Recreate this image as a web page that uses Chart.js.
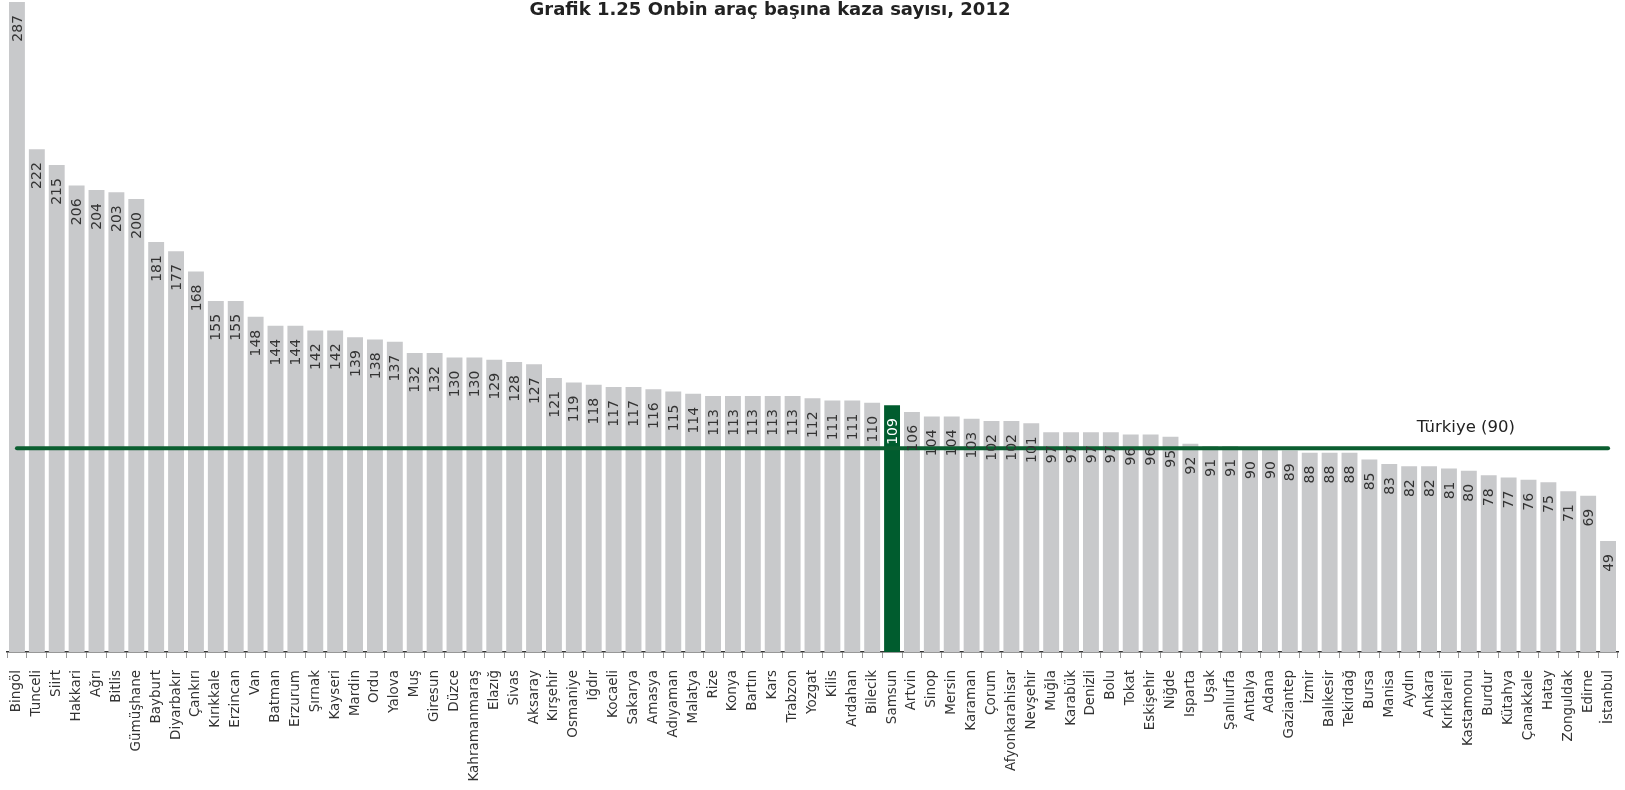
<!DOCTYPE html>
<html lang="tr">
<head>
<meta charset="utf-8">
<title>Onbin araç başına kaza sayısı, 2012</title>
<script src="https://cdn.jsdelivr.net/npm/chart.js@4.4.1/dist/chart.umd.min.js"></script>
<style>
  html, body { margin: 0; padding: 0; background: #fff; }
  #wrap { position: relative; width: 1625px; height: 790px; }
</style>
</head>
<body>
<div id="wrap"><canvas id="kazaChart"></canvas></div>
<script>
const provinces = [
  'Bingöl', 'Tunceli', 'Siirt', 'Hakkari', 'Ağrı', 'Bitlis', 'Gümüşhane', 'Bayburt', 'Diyarbakır', 'Çankırı',
  'Kırıkkale', 'Erzincan', 'Van', 'Batman', 'Erzurum', 'Şırnak', 'Kayseri', 'Mardin', 'Ordu', 'Yalova',
  'Muş', 'Giresun', 'Düzce', 'Kahramanmaraş', 'Elazığ', 'Sivas', 'Aksaray', 'Kırşehir', 'Osmaniye', 'Iğdır',
  'Kocaeli', 'Sakarya', 'Amasya', 'Adıyaman', 'Malatya', 'Rize', 'Konya', 'Bartın', 'Kars', 'Trabzon',
  'Yozgat', 'Kilis', 'Ardahan', 'Bilecik', 'Samsun', 'Artvin', 'Sinop', 'Mersin', 'Karaman', 'Çorum',
  'Afyonkarahisar', 'Nevşehir', 'Muğla', 'Karabük', 'Denizli', 'Bolu', 'Tokat', 'Eskişehir', 'Niğde', 'Isparta',
  'Uşak', 'Şanlıurfa', 'Antalya', 'Adana', 'Gaziantep', 'İzmir', 'Balıkesir', 'Tekirdağ', 'Bursa', 'Manisa',
  'Aydın', 'Ankara', 'Kırklareli', 'Kastamonu', 'Burdur', 'Kütahya', 'Çanakkale', 'Hatay', 'Zonguldak', 'Edirne',
  'İstanbul'
];

const accidentsPer10k = [
  287, 222, 215, 206, 204, 203, 200, 181, 177, 168,
  155, 155, 148, 144, 144, 142, 142, 139, 138, 137,
  132, 132, 130, 130, 129, 128, 127, 121, 119, 118,
  117, 117, 116, 115, 114, 113, 113, 113, 113, 113,
  112, 111, 111, 110, 109, 106, 104, 104, 103, 102,
  102, 101, 97, 97, 97, 97, 96, 96, 95, 92,
  91, 91, 90, 90, 89, 88, 88, 88, 85, 83,
  82, 82, 81, 80, 78, 77, 76, 75, 71, 69,
  49
];

const turkiyeAvg = 90;
const turkiyeLabel = 'Türkiye (90)';
const highlighted = 'Samsun';
const chartTitle = 'Grafik 1.25 Onbin araç başına kaza sayısı, 2012';

const GRAY = '#c8c9cb';
const GREEN = '#005c2e';
const LINE_GREEN = '#0b5e30';
const FONT = '"DejaVu Sans", Verdana, sans-serif';

// value labels inside the top of each bar, rotated
const valueLabels = {
  id: 'valueLabels',
  afterDatasetsDraw(chart) {
    const meta = chart.getDatasetMeta(0);
    const ctx = chart.ctx;
    ctx.save();
    ctx.font = '14px ' + FONT;
    ctx.textAlign = 'right';
    ctx.textBaseline = 'middle';
    meta.data.forEach((bar, i) => {
      ctx.save();
      ctx.translate(bar.x, bar.y + 13);
      ctx.rotate(-Math.PI / 2);
      ctx.fillStyle = provinces[i] === highlighted ? '#ffffff' : '#333333';
      ctx.fillText(String(accidentsPer10k[i]), 0, 1);
      ctx.restore();
    });
    ctx.restore();
  }
};

const extraText = {
  id: 'extraText',
  afterDraw(chart) {
    const ctx = chart.ctx;
    const x = chart.scales.x;
    const y = chart.scales.y;
    ctx.save();
    ctx.fillStyle = '#222';
    ctx.textBaseline = 'middle';
    ctx.textAlign = 'center';
    ctx.font = 'bold 18px ' + FONT;
    ctx.fillText(chartTitle, 770, 10);
    ctx.font = '16.5px ' + FONT;
    ctx.fillText(turkiyeLabel, x.getPixelForValue(73) - 3, y.getPixelForValue(turkiyeAvg) - 20);
    ctx.restore();
  }
};

new Chart(document.getElementById('kazaChart'), {
  data: {
    labels: provinces,
    datasets: [
      {
        type: 'bar',
        data: accidentsPer10k,
        backgroundColor: provinces.map(p => p === highlighted ? GREEN : GRAY),
        barPercentage: 0.8,
        categoryPercentage: 1,
        order: 1,
      },
      {
        type: 'line',
        data: provinces.map(() => turkiyeAvg),
        borderColor: LINE_GREEN,
        borderWidth: 4,
        borderCapStyle: 'round',
        pointRadius: 0,
        order: 0,
      },
    ],
  },
  options: {
    responsive: true,
    maintainAspectRatio: false,
    animation: false,
    layout: { padding: { top: 2, left: 7, right: 7, bottom: 0 } },
    plugins: {
      legend: { display: false },
      tooltip: { enabled: false },
    },
    scales: {
      x: {
        offset: true,
        grid: {
          display: true,
          offset: true,
          drawOnChartArea: false,
          tickLength: 6,
          color: '#999',
        },
        border: { color: '#333', width: 1.5 },
        ticks: {
          autoSkip: false,
          maxRotation: 90,
          minRotation: 90,
          padding: 12,
          color: '#333',
          font: { family: FONT, size: 13.5 },
        },
        afterFit(scale) {
          scale.height = 138;
          scale.paddingRight = 0;
          scale.paddingLeft = 0;
        },
      },
      y: {
        display: false,
        min: 0,
        max: 287,
      },
    },
  },
  plugins: [valueLabels, extraText],
});
</script>
</body>
</html>
